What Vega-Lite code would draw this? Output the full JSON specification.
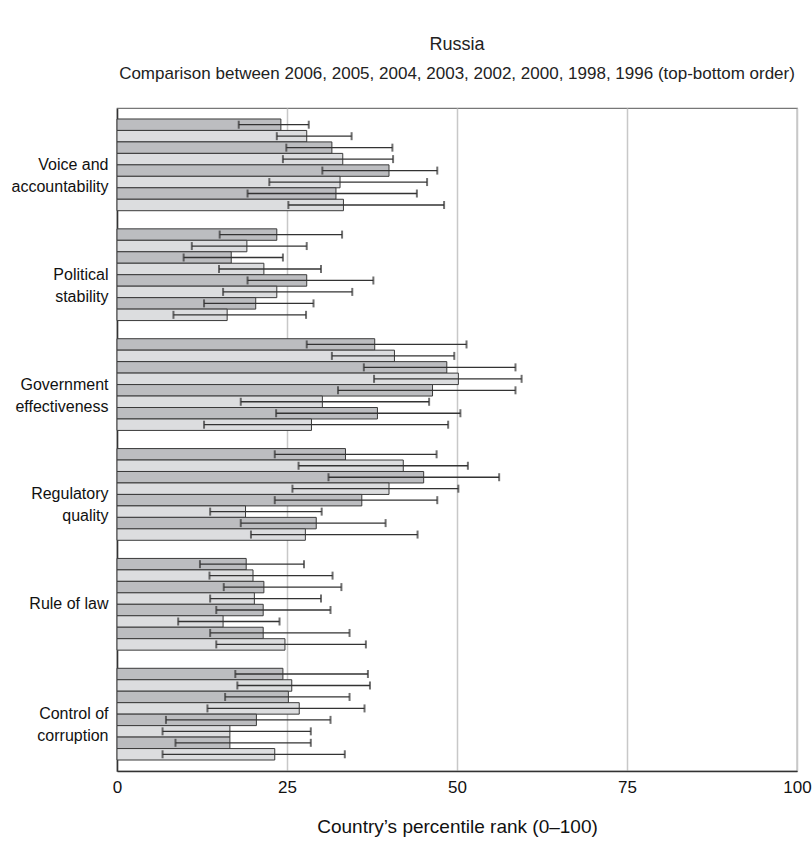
{
  "$schema": "https://vega.github.io/schema/vega-lite/v6.json",
  "autosize": {"type": "none"},
  "padding": {"left": 117, "top": 108, "right": 15, "bottom": 75},
  "width": 680,
  "height": 663,
  "background": "white",
  "config": {
    "font": "Liberation Sans, Arial, sans-serif",
    "view": {"stroke": "#777", "strokeWidth": 1.2}
  },
  "title": {
    "text": "Russia",
    "subtitle": "Comparison between 2006, 2005, 2004, 2003, 2002, 2000, 1998, 1996 (top-bottom order)",
    "anchor": "middle",
    "frame": "group",
    "fontSize": 18,
    "fontWeight": "normal",
    "color": "#222",
    "subtitleFontSize": 17,
    "subtitleColor": "#222",
    "subtitlePadding": 12,
    "offset": 26
  },
  "data": {
    "values": [
      {"indicator": "Voice and accountability", "year": "2006", "rank": 24.1, "low": 17.9, "high": 28.2},
      {"indicator": "Voice and accountability", "year": "2005", "rank": 27.9, "low": 23.5, "high": 34.5},
      {"indicator": "Voice and accountability", "year": "2004", "rank": 31.6, "low": 24.9, "high": 40.5},
      {"indicator": "Voice and accountability", "year": "2003", "rank": 33.2, "low": 24.4, "high": 40.6},
      {"indicator": "Voice and accountability", "year": "2002", "rank": 40.0, "low": 30.2, "high": 47.1},
      {"indicator": "Voice and accountability", "year": "2000", "rank": 32.8, "low": 22.4, "high": 45.6},
      {"indicator": "Voice and accountability", "year": "1998", "rank": 32.2, "low": 19.2, "high": 44.1},
      {"indicator": "Voice and accountability", "year": "1996", "rank": 33.3, "low": 25.2, "high": 48.1},
      {"indicator": "Political stability", "year": "2006", "rank": 23.5, "low": 15.1, "high": 33.1},
      {"indicator": "Political stability", "year": "2005", "rank": 19.1, "low": 11.0, "high": 27.9},
      {"indicator": "Political stability", "year": "2004", "rank": 16.8, "low": 9.8, "high": 24.4},
      {"indicator": "Political stability", "year": "2003", "rank": 21.6, "low": 15.0, "high": 30.0},
      {"indicator": "Political stability", "year": "2002", "rank": 27.9, "low": 19.2, "high": 37.7},
      {"indicator": "Political stability", "year": "2000", "rank": 23.5, "low": 15.6, "high": 34.6},
      {"indicator": "Political stability", "year": "1998", "rank": 20.4, "low": 12.8, "high": 28.9},
      {"indicator": "Political stability", "year": "1996", "rank": 16.2, "low": 8.3, "high": 27.8},
      {"indicator": "Government effectiveness", "year": "2006", "rank": 37.9, "low": 27.9, "high": 51.4},
      {"indicator": "Government effectiveness", "year": "2005", "rank": 40.8, "low": 31.6, "high": 49.6},
      {"indicator": "Government effectiveness", "year": "2004", "rank": 48.5, "low": 36.3, "high": 58.6},
      {"indicator": "Government effectiveness", "year": "2003", "rank": 50.2, "low": 37.8, "high": 59.5},
      {"indicator": "Government effectiveness", "year": "2002", "rank": 46.4, "low": 32.5, "high": 58.6},
      {"indicator": "Government effectiveness", "year": "2000", "rank": 30.2, "low": 18.2, "high": 45.9},
      {"indicator": "Government effectiveness", "year": "1998", "rank": 38.3, "low": 23.4, "high": 50.5},
      {"indicator": "Government effectiveness", "year": "1996", "rank": 28.6, "low": 12.8, "high": 48.7},
      {"indicator": "Regulatory quality", "year": "2006", "rank": 33.6, "low": 23.2, "high": 47.0},
      {"indicator": "Regulatory quality", "year": "2005", "rank": 42.1, "low": 26.7, "high": 51.6},
      {"indicator": "Regulatory quality", "year": "2004", "rank": 45.1, "low": 31.1, "high": 56.2},
      {"indicator": "Regulatory quality", "year": "2003", "rank": 40.0, "low": 25.8, "high": 50.2},
      {"indicator": "Regulatory quality", "year": "2002", "rank": 36.0, "low": 23.2, "high": 47.1},
      {"indicator": "Regulatory quality", "year": "2000", "rank": 18.9, "low": 13.7, "high": 30.1},
      {"indicator": "Regulatory quality", "year": "1998", "rank": 29.3, "low": 18.2, "high": 39.5},
      {"indicator": "Regulatory quality", "year": "1996", "rank": 27.7, "low": 19.7, "high": 44.2},
      {"indicator": "Rule of law", "year": "2006", "rank": 19.0, "low": 12.2, "high": 27.5},
      {"indicator": "Rule of law", "year": "2005", "rank": 20.0, "low": 13.6, "high": 31.7},
      {"indicator": "Rule of law", "year": "2004", "rank": 21.6, "low": 15.7, "high": 33.0},
      {"indicator": "Rule of law", "year": "2003", "rank": 20.2, "low": 13.7, "high": 30.0},
      {"indicator": "Rule of law", "year": "2002", "rank": 21.5, "low": 14.6, "high": 31.4},
      {"indicator": "Rule of law", "year": "2000", "rank": 15.6, "low": 9.0, "high": 23.9},
      {"indicator": "Rule of law", "year": "1998", "rank": 21.5, "low": 13.7, "high": 34.2},
      {"indicator": "Rule of law", "year": "1996", "rank": 24.7, "low": 14.6, "high": 36.6},
      {"indicator": "Control of corruption", "year": "2006", "rank": 24.4, "low": 17.4, "high": 36.9},
      {"indicator": "Control of corruption", "year": "2005", "rank": 25.7, "low": 17.7, "high": 37.2},
      {"indicator": "Control of corruption", "year": "2004", "rank": 25.2, "low": 15.9, "high": 34.2},
      {"indicator": "Control of corruption", "year": "2003", "rank": 26.8, "low": 13.3, "high": 36.4},
      {"indicator": "Control of corruption", "year": "2002", "rank": 20.5, "low": 7.2, "high": 31.4},
      {"indicator": "Control of corruption", "year": "2000", "rank": 16.6, "low": 6.7, "high": 28.5},
      {"indicator": "Control of corruption", "year": "1998", "rank": 16.6, "low": 8.6, "high": 28.5},
      {"indicator": "Control of corruption", "year": "1996", "rank": 23.2, "low": 6.7, "high": 33.5}
    ]
  },
  "encoding": {
    "y": {
      "field": "indicator",
      "type": "nominal",
      "sort": ["Voice and accountability", "Political stability", "Government effectiveness", "Regulatory quality", "Rule of law", "Control of corruption"],
      "scale": {"paddingInner": 0.165, "paddingOuter": 0.1},
      "axis": {
        "title": null,
        "ticks": false,
        "domain": true,
        "domainColor": "#333",
        "domainWidth": 1.5,
        "labelFontSize": 16,
        "labelColor": "#111",
        "labelPadding": 9,
        "labelLineHeight": 22,
        "labelExpr": "datum.value == 'Voice and accountability' ? ['Voice and', 'accountability'] : datum.value == 'Political stability' ? ['Political', 'stability'] : datum.value == 'Government effectiveness' ? ['Government', 'effectiveness'] : datum.value == 'Regulatory quality' ? ['Regulatory', 'quality'] : datum.value == 'Control of corruption' ? ['Control of', 'corruption'] : datum.value"
      }
    },
    "yOffset": {
      "field": "year",
      "type": "nominal",
      "sort": ["2006", "2005", "2004", "2003", "2002", "2000", "1998", "1996"],
      "scale": {"paddingInner": 0, "paddingOuter": 0}
    }
  },
  "layer": [
    {
      "mark": {"type": "bar", "stroke": "#3a3a3a", "strokeWidth": 1},
      "encoding": {
        "x": {
          "field": "rank",
          "type": "quantitative",
          "scale": {"domain": [0, 100], "nice": false},
          "axis": {
            "values": [0, 25, 50, 75, 100],
            "title": "Country’s percentile rank (0–100)",
            "titleFontSize": 19,
            "titleFontWeight": "normal",
            "titleColor": "#111",
            "titlePadding": 22,
            "labelFontSize": 17,
            "labelColor": "#111",
            "labelPadding": 8,
            "labelFlush": false,
            "ticks": false,
            "domainColor": "#333",
            "domainWidth": 1.5,
            "grid": true,
            "gridColor": "#c8c8c8",
            "gridWidth": 1.5
          }
        },
        "color": {
          "field": "year",
          "type": "nominal",
          "scale": {
            "domain": ["2006", "2005", "2004", "2003", "2002", "2000", "1998", "1996"],
            "range": ["#bcbdc0", "#dcdddf", "#bcbdc0", "#dcdddf", "#bcbdc0", "#dcdddf", "#bcbdc0", "#dcdddf"]
          },
          "legend": null
        }
      }
    },
    {
      "mark": {"type": "rule", "color": "#333", "strokeWidth": 1.3},
      "encoding": {
        "x": {"field": "low", "type": "quantitative"},
        "x2": {"field": "high"}
      }
    },
    {
      "mark": {"type": "tick", "color": "#333", "size": 8, "thickness": 2},
      "encoding": {
        "x": {"field": "low", "type": "quantitative"}
      }
    },
    {
      "mark": {"type": "tick", "color": "#333", "size": 8, "thickness": 2},
      "encoding": {
        "x": {"field": "high", "type": "quantitative"}
      }
    }
  ]
}
